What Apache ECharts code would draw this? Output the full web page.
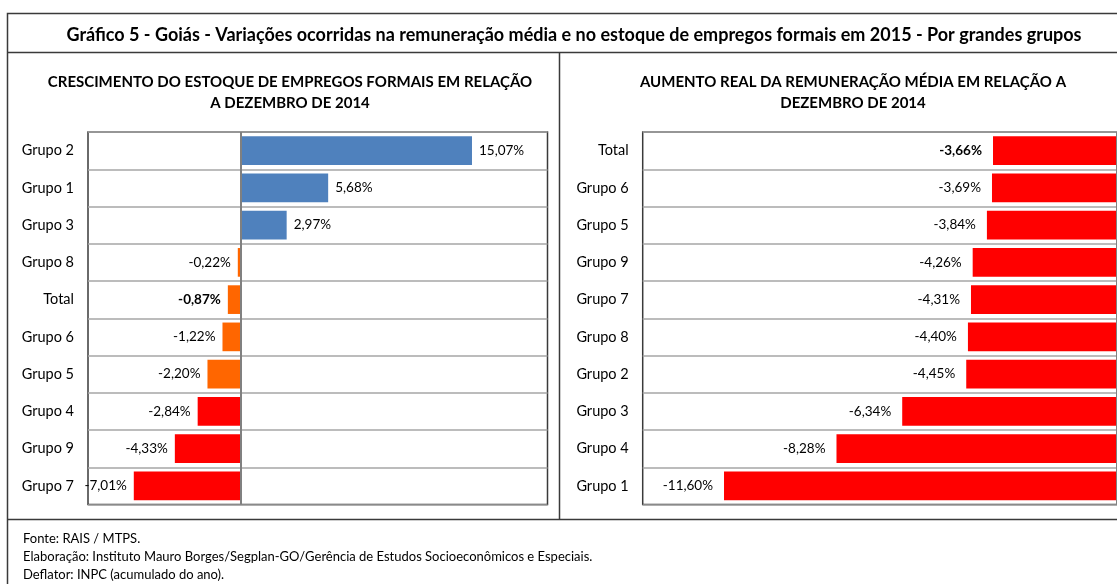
<!DOCTYPE html>
<html>
<head>
<meta charset="utf-8">
<script src="https://cdn.jsdelivr.net/npm/echarts@6/dist/echarts.min.js"></script>
<style>
html,body{margin:0;padding:0;background:#fff;}
#chart{width:1117px;height:584px;}
</style>
</head>
<body>
<div id="chart"></div>
<script>
// ---- Data ----
const leftCategories = ['Grupo 2','Grupo 1','Grupo 3','Grupo 8','Total','Grupo 6','Grupo 5','Grupo 4','Grupo 9','Grupo 7'];
const leftValues = [15.07, 5.68, 2.97, -0.22, -0.87, -1.22, -2.20, -2.84, -4.33, -7.01];
const rightCategories = ['Total','Grupo 6','Grupo 5','Grupo 9','Grupo 7','Grupo 8','Grupo 2','Grupo 3','Grupo 4','Grupo 1'];
const rightValues = [-3.66, -3.69, -3.84, -4.26, -4.31, -4.40, -4.45, -6.34, -8.28, -11.60];
const mainTitle = 'Gráfico 5 - Goiás - Variações ocorridas na remuneração média e no estoque de empregos formais em 2015 - Por grandes grupos';
const leftTitle = 'CRESCIMENTO DO ESTOQUE DE EMPREGOS FORMAIS EM RELAÇÃO\nA DEZEMBRO DE 2014';
const rightTitle = 'AUMENTO REAL DA REMUNERAÇÃO MÉDIA EM RELAÇÃO A\nDEZEMBRO DE 2014';
const notes = ['Fonte: RAIS / MTPS.',
  'Elaboração: Instituto Mauro Borges/Segplan-GO/Gerência de Estudos Socioeconômicos e Especiais.',
  'Deflator: INPC (acumulado do ano).'];

// ---- Style ----
const FONT = 'Lato';
const BLUE = '#4F81BD', ORANGE = '#FF6600', RED = '#FF0000';
const LINE = '#3a3a3a';

function fmt(v){ return v.toFixed(2).replace('.', ',') + '%'; }
function leftColor(v){ return v > 0 ? BLUE : (v > -2.5 ? ORANGE : RED); }

function buildData(cats, vals, colorFn){
  return vals.map((v, i) => ({
    value: v,
    itemStyle: { color: colorFn(v) },
    label: {
      position: v >= 0 ? 'right' : 'left',
      fontWeight: cats[i] === 'Total' ? 'bold' : 'normal'
    }
  }));
}

const chart = echarts.init(document.getElementById('chart'), null, {renderer: 'canvas'});

const catAxis = (gi, cats) => ({
  type: 'category', gridIndex: gi, data: cats, inverse: true,
  axisLine: { show: false, onZero: false }, axisTick: { show: false },
  axisLabel: { color: '#000', fontFamily: FONT, fontSize: 14.5, margin: 14 },
  splitLine: { show: true, lineStyle: { color: '#A6A6A6', width: 1.5 } }
});
const valAxis = (gi, min, max) => ({
  type: 'value', gridIndex: gi, min: min, max: max,
  axisLine: { show: false }, axisTick: { show: false },
  axisLabel: { show: false }, splitLine: { show: false }
});
const zeroLine = {
  silent: true, symbol: 'none', label: { show: false },
  lineStyle: { color: '#808080', width: 2, type: 'solid' },
  data: [{ xAxis: 0 }]
};

chart.setOption({
  animation: false,
  textStyle: { fontFamily: FONT },
  title: [
    { text: mainTitle, left: 569, top: 21, textAlign: 'center',
      textStyle: { fontFamily: FONT, fontSize: 18, fontWeight: 'bold', color: '#000' } },
    { text: leftTitle, left: 285, top: 67, textAlign: 'center',
      textStyle: { fontFamily: FONT, fontSize: 15, fontWeight: 'bold', color: '#000', lineHeight: 21 } },
    { text: rightTitle, left: 848, top: 67, textAlign: 'center',
      textStyle: { fontFamily: FONT, fontSize: 15, fontWeight: 'bold', color: '#000', lineHeight: 21 } },
    { text: notes.join('\n'), left: 18, top: 525,
      textStyle: { fontFamily: FONT, fontSize: 13, fontWeight: 'normal', color: '#000', lineHeight: 18 } }
  ],
  grid: [
    { left: 88, top: 132, right: 569.5, bottom: 79.5, show: true, borderColor: LINE, borderWidth: 1.5, containLabel: false },
    { left: 642.7, top: 132, right: -1, bottom: 79.5, show: true, borderColor: LINE, borderWidth: 1.5, containLabel: false }
  ],
  xAxis: [ valAxis(0, -10, 20), valAxis(1, -14, 0) ],
  yAxis: [ catAxis(0, leftCategories), catAxis(1, rightCategories) ],
  series: [
    { type: 'bar', xAxisIndex: 0, yAxisIndex: 0, barCategoryGap: '23%',
      data: buildData(leftCategories, leftValues, leftColor),
      label: { show: true, formatter: p => fmt(p.value), color: '#000', fontFamily: FONT, fontSize: 13.5, distance: 7 },
      markLine: zeroLine },
    { type: 'bar', xAxisIndex: 1, yAxisIndex: 1, barCategoryGap: '23%',
      data: buildData(rightCategories, rightValues, () => RED),
      label: { show: true, formatter: p => fmt(p.value), color: '#000', fontFamily: FONT, fontSize: 13.5, distance: 11 },
      markLine: zeroLine }
  ],
  graphic: [
    { type: 'rect', shape: { x: 7.5, y: 13.5, width: 1130, height: 600 }, style: { fill: null, stroke: LINE, lineWidth: 1.5 }, z: 100 },
    { type: 'line', shape: { x1: 7.5, y1: 52.5, x2: 1117, y2: 52.5 }, style: { stroke: LINE, lineWidth: 1.5 }, z: 100 },
    { type: 'line', shape: { x1: 559.5, y1: 52.5, x2: 559.5, y2: 519.5 }, style: { stroke: LINE, lineWidth: 1.5 }, z: 100 },
    { type: 'line', shape: { x1: 7.5, y1: 519.5, x2: 1117, y2: 519.5 }, style: { stroke: LINE, lineWidth: 1.5 }, z: 100 }
  ]
});
</script>
</body>
</html>
